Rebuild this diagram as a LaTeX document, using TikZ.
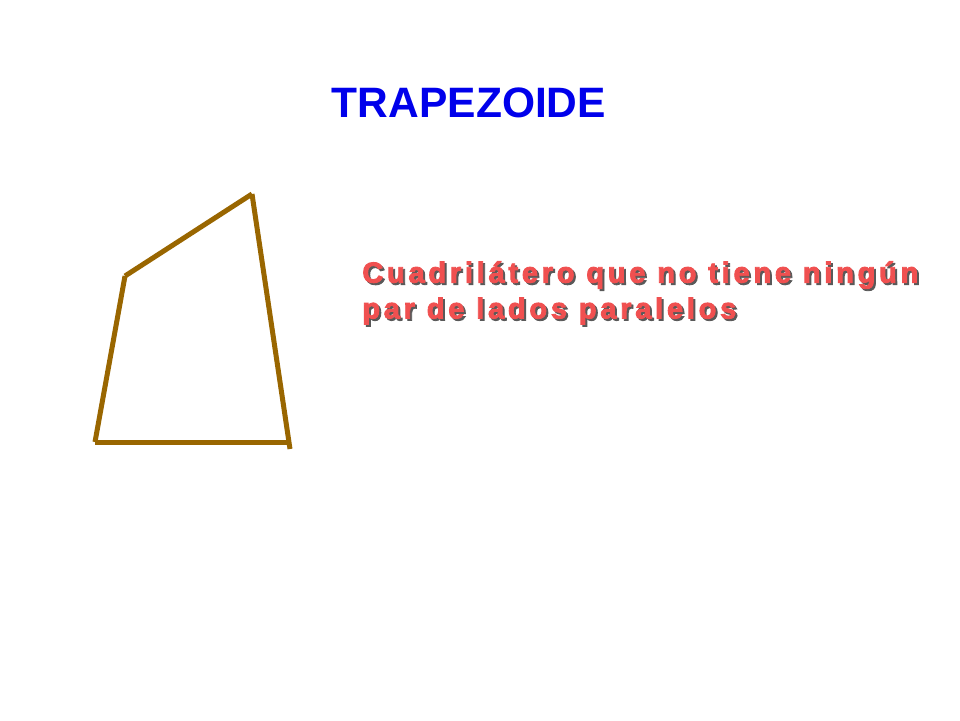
\documentclass[tikz,border=0pt]{standalone}
\usepackage{fontspec}
\setmainfont{Liberation Sans}
\usepackage{tikz}
\usetikzlibrary{positioning}
\definecolor{titleblue}{RGB}{0,0,235}
\definecolor{textred}{RGB}{240,80,80}
\definecolor{sidebrown}{RGB}{153,102,0}

\begin{document}
\begin{tikzpicture}[x=0.02cm, y=-0.02cm,
    side/.style={draw=sidebrown, line width=5*0.02cm},
    desc/.style={anchor=north west, align=left, inner sep=0pt,
      font=\fontsize{16.5}{20.4}\selectfont\bfseries\addfontfeatures{LetterSpace=13,FakeBold=3}}]
  \useasboundingbox (0,0) rectangle (960,720);

  \node (ititle) at (469,103) {\fontsize{24.2}{28}\selectfont\bfseries\color{titleblue}TRAPEZOIDE};

  \node [desc, text=black!65] (idescshadow) at (364,263) {Cuadrilátero que no tiene ningún\\par de lados paralelos};
  \node [desc, text=textred] (idesc) at (362,261) {Cuadrilátero que no tiene ningún\\par de lados paralelos};

  \coordinate (ptl) at (125,276);
  \coordinate (ptr) at (252,194);
  \coordinate (pbl) at (95,442);
  \coordinate (pbr) at (290,449);
  \coordinate (pbb) at (289,442);

  \draw [side] (ptl) -- (ptr);
  \draw [side] (ptr) -- (pbr);
  \draw [side] (pbl) -- (ptl);
  \draw [side] (pbl) -- (pbb);
\end{tikzpicture}
\end{document}
